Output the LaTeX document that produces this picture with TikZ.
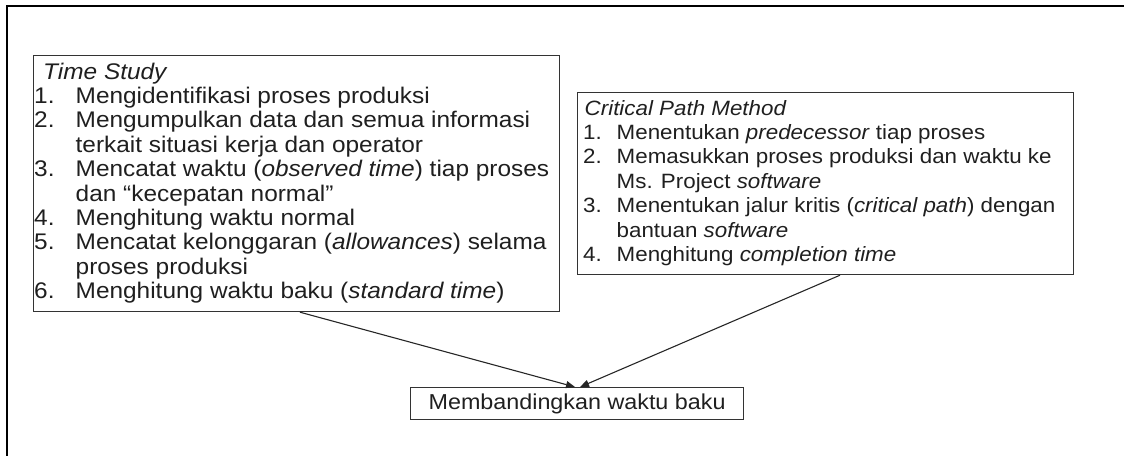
\documentclass[tikz,border=0pt]{standalone}
\usepackage{fontspec}
\setmainfont[FakeStretch=1.08]{Liberation Sans}
\usetikzlibrary{arrows.meta}
\begin{document}
\begin{tikzpicture}[x=1pt,y=1pt,
  box/.style={draw=black!80, line width=1.2pt, inner sep=0pt, anchor=north west,
              font=\fontsize{21.6}{24.4}\selectfont, text=black!88},
  txt/.style={inner sep=0pt, anchor=base west, font=\fontsize{20.7}{24.4}\selectfont, text=black!88},
  txtl/.style={txt, font=\fontsize{22.6}{24.4}\selectfont},
  arr/.style={draw=black!85, line width=1.1pt, -{Triangle[length=9pt,width=7pt]}},
  frame/.style={line width=2pt}]
\useasboundingbox (0,0) rectangle (1124,-455);
\draw[frame] (1124,-6) -- (7,-6) -- (7,-456);
% Time Study box
\node[box, minimum width=526pt, minimum height=256pt] (ts) at (33,-55) {};
\node[txtl] (tsh) at (43,-79) {\itshape Time Study};
\node[txtl] (tsl) at (34,-103.4) {\begin{tabular}[t]{@{}p{41.5pt}@{}l@{}}
1. & Mengidentifikasi proses produksi\\
2. & Mengumpulkan data dan semua informasi\\
   & terkait situasi kerja dan operator\\
3. & Mencatat waktu (\textit{observed time}) tiap proses\\
   & dan “kecepatan normal”\\
4. & Menghitung waktu normal\\
5. & Mencatat kelonggaran (\textit{allowances}) selama\\
   & proses produksi\\
6. & Menghitung waktu baku (\textit{standard time})
\end{tabular}};
% Critical Path Method box
\node[box, minimum width=496pt, minimum height=182pt] (cpm) at (577,-92) {};
\node[txt] (cpmh) at (584.5,-115) {\itshape Critical Path Method};
\node[txt] (cpml) at (583,-139.4) {\begin{tabular}[t]{@{}p{33.5pt}@{}l@{}}
1. & Menentukan \textit{predecessor} tiap proses\\
2. & Memasukkan proses produksi dan waktu ke\\
   & Ms. Project \textit{software}\\
3. & Menentukan jalur kritis (\textit{critical path}) dengan\\
   & bantuan \textit{software}\\
4. & Menghitung \textit{completion time}
\end{tabular}};
% Result box
\node[box, minimum width=333pt, minimum height=32pt] (res) at (410,-387) {Membandingkan waktu baku};
% connectors
\draw[arr] ([xshift=267pt]ts.south west) -- ([xshift=165pt]res.north west);
\draw[arr] ([xshift=263pt]cpm.south west) -- ([xshift=170pt]res.north west);
\end{tikzpicture}
\end{document}
